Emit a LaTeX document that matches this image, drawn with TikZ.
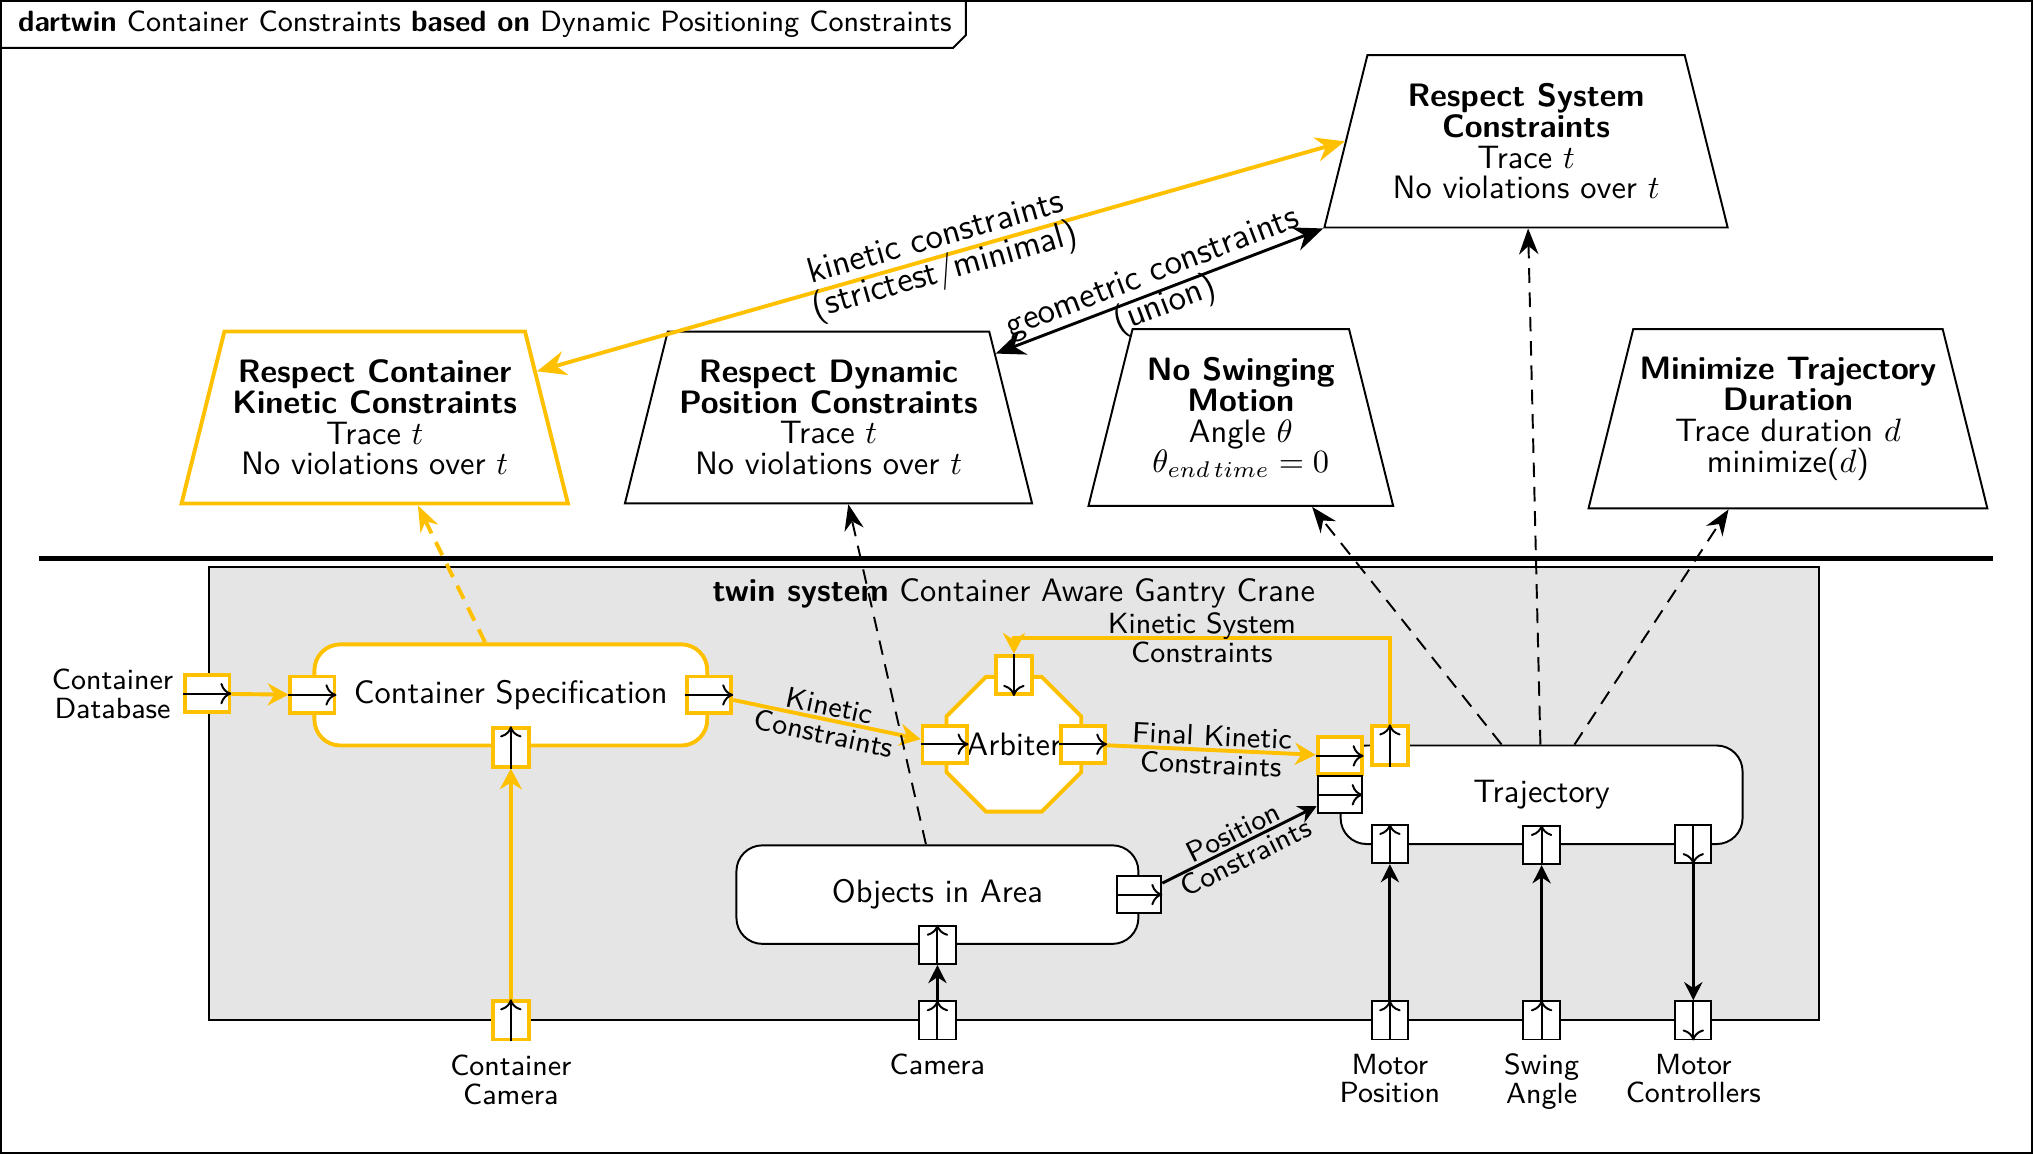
\documentclass[tikz,border=0pt]{standalone}
\usetikzlibrary{shapes.geometric,arrows.meta,positioning}
\definecolor{twinyellow}{RGB}{255,192,0}
\definecolor{twingray}{RGB}{229,229,229}
\newcommand{\goalfont}{\sffamily\fontsize{10}{9.5}\selectfont}
\newcommand{\titlefont}{\sffamily\fontsize{9.05}{11}\selectfont}
\newcommand{\lblfont}{\sffamily\fontsize{9}{8.8}\selectfont}
\newcommand{\toplblfont}{\sffamily\fontsize{11}{10.6}\selectfont}
\tikzset{
  goal/.style={trapezium,draw,fill=white,line width=0.6pt,trapezium left angle=76,trapezium right angle=76,
    trapezium stretches body=true,align=center,inner xsep=2pt,inner ysep=8.7pt,font=\goalfont},
  yellowgoal/.style={goal,draw=twinyellow,line width=1.2pt},
  block/.style={draw,fill=white,rounded corners=8pt,line width=0.6pt,minimum width=124pt,minimum height=30.4pt,font=\goalfont},
  yellowblock/.style={block,draw=twinyellow,line width=1.2pt,minimum width=121.2pt,minimum height=31.2pt},
  hport/.style={draw,fill=white,line width=0.6pt,minimum width=13.6pt,minimum height=11.4pt,inner sep=0pt},
  vport/.style={hport,minimum width=11.2pt,minimum height=11.8pt},
  yhport/.style={hport,draw=twinyellow,line width=1.2pt},
  yvport/.style={vport,draw=twinyellow,line width=1.2pt},
  portarrow/.style={-{To[length=3.4pt,width=6.6pt]},line width=0.6pt},
  conn/.style={-{Stealth[length=5.6pt,width=5.6pt]},line width=0.9pt},
  yconn/.style={draw=twinyellow,line width=1.2pt,-{Stealth[length=6.4pt,width=6.8pt]}},
  dep/.style={-{Stealth[length=8pt,width=6pt]},line width=0.6pt,dash pattern=on 4.5pt off 3pt},
  ydep/.style={dep,draw=twinyellow,line width=1.2pt},
  toparrow/.style={{Stealth[length=9pt,width=7.5pt]}-{Stealth[length=9pt,width=7.5pt]},line width=0.9pt},
  ytoparrow/.style={toparrow,draw=twinyellow,line width=1.2pt},
  lbl/.style={font=\lblfont,align=center,inner sep=1pt},
  toplbl/.style={font=\toplblfont,align=center,inner sep=1pt},
}
\begin{document}
\begin{tikzpicture}[x=0.4pt,y=-0.4pt]
\useasboundingbox (0,0) rectangle (1568,890);
\draw[line width=0.6pt] (1,1) rectangle (1567,889);
\draw[line width=0.6pt] (1,37) -- (735,37) -- (745,27) -- (745,1);
\node[font=\titlefont] (title) at (374,19) {\textbf{dartwin} Container Constraints \textbf{based on} Dynamic Positioning Constraints};

% goals
\node[yellowgoal,minimum width=119.2pt] (kin) at (289,322) {\textbf{Respect Container}\\\textbf{Kinetic Constraints}\\Trace $t$\\No violations over $t$};
\node[goal,minimum width=125.6pt] (dyn) at (639,322) {\textbf{Respect Dynamic}\\\textbf{Position Constraints}\\Trace $t$\\No violations over $t$};
\node[goal,minimum width=94pt] (swing) at (957,322) {\textbf{No Swinging}\\\textbf{Motion}\\Angle $\theta$\\$\theta_{end\,time}=0$};
\node[goal,minimum width=119.2pt] (dur) at (1379,323) {\textbf{Minimize Trajectory}\\\textbf{Duration}\\Trace duration $d$\\minimize($d$)};
\node[goal,minimum width=124.4pt] (sys) at (1177,109) {\textbf{Respect System}\\\textbf{Constraints}\\Trace $t$\\No violations over $t$};

\draw[ytoparrow] (kin) -- node[toplbl,sloped] {kinetic constraints\\(strictest/minimal)} (sys.west);
\draw[toparrow] (dyn) -- node[toplbl,sloped] {geometric constraints\\(union)} (sys.bottom left corner);

\draw[line width=1.6pt] (30,431) -- (1537,431);

% twin system
\draw[line width=0.6pt,fill=twingray] (161,437) rectangle (1403,787);
\node[font=\goalfont] (systitle) at (782,458) {\textbf{twin system} Container Aware Gantry Crane};

\node[yellowblock] (spec) at (394,536) {Container Specification};
\node[block] (objects) at (723,690) {Objects in Area};
\node[block] (traj) at (1189,613) {Trajectory};
\node[regular polygon,regular polygon sides=8,minimum size=45pt,inner sep=0pt,draw=twinyellow,line width=1.2pt,fill=white,font=\goalfont] (arb) at (782,574) {Arbiter};

\node[yhport] (dbport) at (160,535) {};
\node[yhport] (specin) at (spec.west) {};
\node[yhport] (specout) at (spec.east) {};
\node[yvport] (specup) at (spec.south) {};
\node[yvport] (ccamport) at (394,787) {};
\node[yhport] (arbin) at (arb.west) {};
\node[yhport] (arbout) at (arb.east) {};
\node[yvport] (arbks) at (arb.north) {};
\node[yhport] (trkin) at ([yshift=12pt]traj.west) {};
\node[hport] (trpos) at (traj.west) {};
\node[yvport] (trks) at (1072,575) {};
\node[vport] (trmp) at (1072,651) {};
\node[vport] (trsa) at (traj.south) {};
\node[vport] (trmc) at (1306,651) {};
\node[hport] (objout) at (objects.east) {};
\node[vport] (objin) at (objects.south) {};
\node[vport] (camport) at (723,787) {};
\node[vport] (mp) at (1072,787) {};
\node[vport] (sa) at (1189,787) {};
\node[vport] (mc) at (1306,787) {};

\foreach \p in {dbport,specin,specout,arbin,arbout,trkin,trpos,objout}
  \draw[portarrow] (\p.west) -- (\p.east);
\foreach \p in {specup,ccamport,trks,trmp,trsa,objin,camport,mp,sa}
  \draw[portarrow] (\p.south) -- (\p.north);
\foreach \p in {arbks,trmc,mc}
  \draw[portarrow] (\p.north) -- (\p.south);

\node[lbl,left=2pt of dbport] (dblbl) {Container\\Database};
\node[lbl,below=3pt of ccamport] (ccamlbl) {Container\\Camera};
\node[lbl,below=3pt of camport] (camlbl) {Camera};
\node[lbl,below=3pt of mp] (mplbl) {Motor\\Position};
\node[lbl,below=3pt of sa] (salbl) {Swing\\Angle};
\node[lbl,below=3pt of mc] (mclbl) {Motor\\Controllers};

\coordinate (ksbend) at (1072,492);
\draw[yconn] (dbport) -- (specin);
\draw[yconn] (ccamport) -- (specup);
\draw[yconn] (specout) -- node[lbl,sloped] {Kinetic\\Constraints} (arbin);
\draw[yconn] (arbout) -- node[lbl,sloped] {Final Kinetic\\Constraints} (trkin);
\draw[yconn] (trks) -- (ksbend) -| node[lbl,pos=0.25] {Kinetic System\\Constraints} (arbks);
\draw[conn] (objout) -- node[lbl,sloped] {Position\\Constraints} (trpos);
\draw[conn] (camport) -- (objin);
\draw[conn] (mp) -- (trmp);
\draw[conn] (sa) -- (trsa);
\draw[conn] (trmc) -- (mc);

\draw[ydep] (spec) -- (kin);
\draw[dep] (objects) -- (dyn);
\draw[dep] (traj) -- (swing);
\draw[dep] (traj) -- (sys);
\draw[dep] (traj) -- (dur);
\end{tikzpicture}
\end{document}
